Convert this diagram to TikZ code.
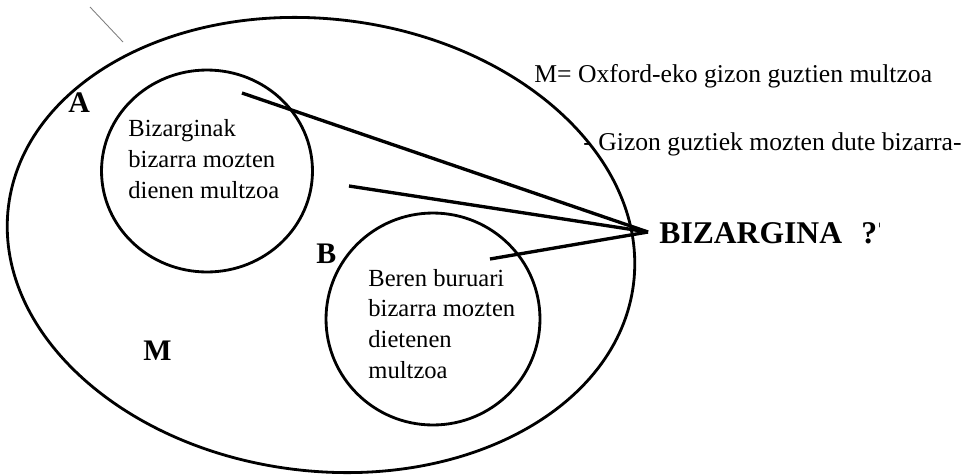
\documentclass[tikz,border=0pt]{standalone}
\usepackage{fontspec}
\setmainfont{Liberation Serif}
\usetikzlibrary{shapes}
\usetikzlibrary{positioning}

\begin{document}
\begin{tikzpicture}[
    x=0.02cm, y=-0.02cm,
    line width=1.6pt
]
\tikzset{
    setnode/.style = {ellipse, draw=black, inner sep=0pt},
    settext/.style = {anchor=base west, align=left, inner sep=0pt, font=\fontsize{14}{17.4}\selectfont},
    setname/.style = {anchor=base west, inner sep=0pt, font=\fontsize{17}{20}\selectfont\bfseries},
    note/.style = {anchor=base west, inner sep=0pt, font=\fontsize{14.6}{17}\selectfont},
    ray/.style = {-, line width=1.9pt}
}
\useasboundingbox (0,0) rectangle (971,474);
% sets
\node[setnode, rotate=-7.1, minimum width=12.6cm, minimum height=9.04cm] (setM) at (321,245) {};
\node[setnode, minimum width=4.22cm, minimum height=4.04cm] (setA) at (207,171) {};
\node[setnode, minimum width=4.28cm, minimum height=4.24cm] (setB) at (433,319) {};
\node[setname] (nameA) at (67,112) {A};
\node[setname] (nameB) at (315,263) {B};
\node[setname] (nameM) at (142,360) {M};
% base of a multi-line node = last line
\node[settext] (textA) at (127,198) {Bizarginak\\bizarra mozten\\dienen multzoa};
\node[settext] (textB) at (367,378) {Beren buruari\\bizarra mozten\\dietenen\\multzoa};
% notes
\node[note] (defM) at (533,82) {M= Oxford-eko gizon guztien multzoa};
\node[note] (rule) at (582,150) {- Gizon guztiek mozten dute bizarra-};
\begin{scope}
\clip (650,200) rectangle (879,270);
\node[anchor=base west, inner sep=0pt, font=\fontsize{18}{20}\selectfont\bfseries] (barber) at (658,243) {BIZARGINA\hspace{11pt}??};
\end{scope}
% rays
\coordinate (tip) at (648,232);
\coordinate (a1) at (242,93);
\coordinate (a2) at (349,186);
\coordinate (b1) at (490,259);
\draw[ray] (a1) -- (tip);
\draw[ray] (a2) -- (tip);
\draw[ray] (b1) -- (tip);
% stray mark
\coordinate (s1) at (90,7);
\coordinate (s2) at (123,42);
\draw[gray, line width=0.5pt] (s1) -- (s2);
\end{tikzpicture}
\end{document}
